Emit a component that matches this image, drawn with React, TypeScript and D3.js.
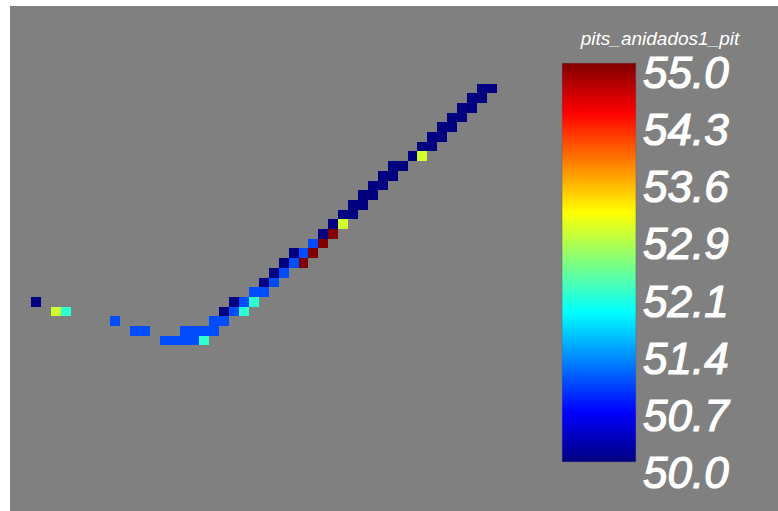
import React from "react";
import * as d3 from "d3";

const WIDTH = 778;
const HEIGHT = 511;

// grid cells (column index, row index from bottom, value)
const cellCols = [0, 2, 3, 8, 10, 11, 13, 14, 15, 16, 17, 15, 16, 17, 18, 18, 19, 19, 20, 21, 20, 21, 22, 22, 23, 23, 24, 24, 25, 25, 26, 27, 26, 27, 28, 28, 29, 29, 30, 30, 31, 31, 32, 32, 33, 33, 34, 34, 35, 35, 36, 36, 37, 38, 39, 39, 40, 40, 41, 41, 42, 42, 43, 43, 44, 44, 45, 45, 46];
const cellRows = [4, 3, 3, 2, 1, 1, 0, 0, 0, 0, 0, 1, 1, 1, 1, 2, 2, 3, 3, 3, 4, 4, 4, 5, 5, 6, 6, 7, 7, 8, 8, 8, 9, 9, 9, 10, 10, 11, 11, 12, 12, 13, 13, 14, 14, 15, 15, 16, 16, 17, 17, 18, 18, 19, 19, 20, 20, 21, 21, 22, 22, 23, 23, 24, 24, 25, 25, 26, 26];
const cellValues = [50.0, 52.9, 52.1, 51.0, 51.0, 51.0, 51.0, 51.0, 51.0, 51.0, 52.1, 51.0, 51.0, 51.0, 51.0, 51.0, 51.0, 50.0, 51.0, 52.1, 50.0, 51.0, 52.1, 51.0, 51.0, 50.0, 51.0, 50.0, 51.0, 50.0, 51.0, 55.0, 50.0, 51.0, 55.0, 51.0, 55.0, 50.0, 55.0, 50.0, 52.9, 50.0, 50.0, 50.0, 50.0, 50.0, 50.0, 50.0, 50.0, 50.0, 50.0, 50.0, 50.0, 50.0, 52.9, 50.0, 50.0, 50.0, 50.0, 50.0, 50.0, 50.0, 50.0, 50.0, 50.0, 50.0, 50.0, 50.0, 50.0];

const valueMin = 50.0;
const valueMax = 55.0;
const tickLabels = ["55.0", "54.3", "53.6", "52.9", "52.1", "51.4", "50.7", "50.0"];
const legendTitle = "pits_anidados1_pit";

// jet colormap stops
const jetStops = [0, 0.125, 0.375, 0.625, 0.875, 1];
const jetColors = ["#000080", "#0000ff", "#00ffff", "#ffff00", "#ff0000", "#800000"];

export default function App() {
  const jet = d3
    .scaleLinear<string>()
    .domain(jetStops.map((t) => valueMin + t * (valueMax - valueMin)))
    .range(jetColors)
    .interpolate(d3.interpolateRgb)
    .clamp(true);

  const x = d3.scaleLinear().domain([0, 47]).range([31, 31 + 47 * 9.91]);
  const y = d3.scaleLinear().domain([0, 27]).range([345.4, 345.4 - 27 * 9.7]);
  const cw = x(1) - x(0);
  const ch = y(0) - y(1);

  const barX = 562;
  const barW = 74;
  const barTop = 63;
  const barBottom = 462;
  const labelY = d3.scaleLinear().domain([0, tickLabels.length - 1]).range([88, 488]);

  const cells = cellCols.map((c, i) => ({ c, r: cellRows[i], v: cellValues[i] }));

  return (
    <svg
      width={WIDTH}
      height={HEIGHT}
      style={{ position: "absolute", left: 0, top: 0, display: "block" }}
    >
      <defs>
        <linearGradient id="jetGrad" x1="0" y1="1" x2="0" y2="0">
          {jetStops.map((t, i) => (
            <stop key={i} offset={t} stopColor={jetColors[i]} />
          ))}
        </linearGradient>
      </defs>
      <rect x={0} y={0} width={WIDTH} height={HEIGHT} fill="#ffffff" />
      <rect x={10} y={6} width={WIDTH - 10} height={HEIGHT - 6} fill="#808080" />
      <g>
        {cells.map((d, i) => (
          <rect
            key={i}
            x={x(d.c)}
            y={y(d.r + 1)}
            width={cw}
            height={ch}
            fill={jet(d.v)}
            shapeRendering="crispEdges"
          />
        ))}
      </g>
      <rect
        x={barX}
        y={barTop}
        width={barW}
        height={barBottom - barTop}
        fill="url(#jetGrad)"
        stroke="#6a6a7a"
        strokeWidth={0.6}
      />
      <text
        x={660}
        y={45}
        textAnchor="middle"
        fill="#ffffff"
        fontFamily="'Liberation Sans', Arial, sans-serif"
        fontStyle="italic"
        fontSize={19}
      >
        {legendTitle}
      </text>
      {tickLabels.map((t, i) => (
        <text
          key={t}
          x={643}
          y={labelY(i)}
          fill="#ffffff"
          stroke="#ffffff"
          strokeWidth={1.2}
          fontFamily="'Liberation Sans', Arial, sans-serif"
          fontStyle="italic"
          fontSize={44}
        >
          {t}
        </text>
      ))}
    </svg>
  );
}
